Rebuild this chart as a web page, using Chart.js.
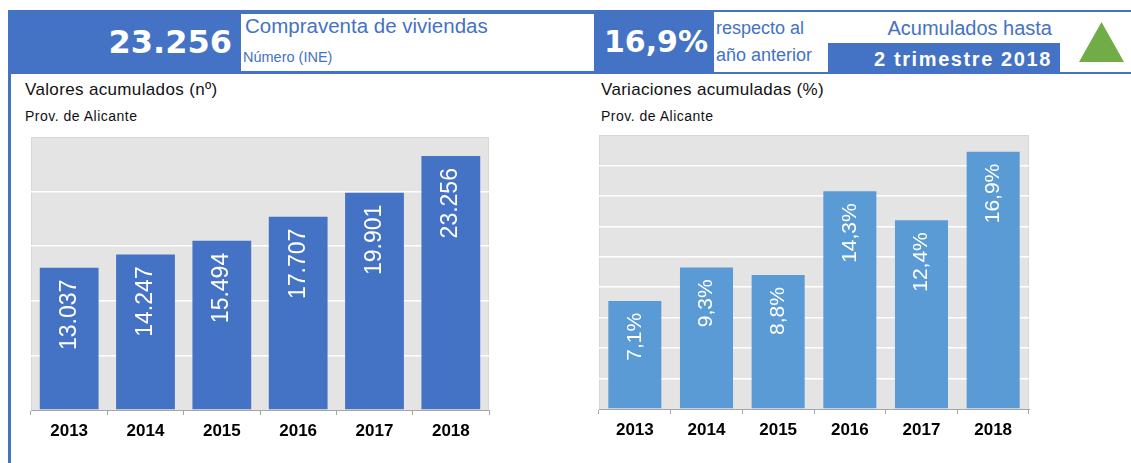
<!DOCTYPE html>
<html>
<head>
<meta charset="utf-8">
<script src="https://cdn.jsdelivr.net/npm/chart.js@4.4.1/dist/chart.umd.min.js"></script>
<style>
  html, body { margin:0; padding:0; background:#fff; }
  body { width:1131px; height:463px; position:relative; overflow:hidden; font-family:"Liberation Sans", Arial, sans-serif; }
  .abs { position:absolute; white-space:nowrap; }
  .blue { background:#4472c4; }
  .t { color:#4472c4; }
</style>
</head>
<body>
<script>
// ---- data ----
const categories = ['2013', '2014', '2015', '2016', '2017', '2018'];
const compraventas = [13037, 14247, 15494, 17707, 19901, 23256];
const variaciones = [7.1, 9.3, 8.8, 14.3, 12.4, 16.9];
const headerPeriod = '2 trimestre 2018';
const leftTitle = 'Valores acumulados (nº)';
const rightTitle = 'Variaciones acumuladas (%)';
const subTitle = 'Prov. de Alicante';
</script>

<!-- header -->
<div class="abs blue" style="left:8px;top:10px;width:590px;height:64px;"></div>
<div class="abs" style="left:241px;top:14px;width:353px;height:57px;background:#fff;"></div>
<div class="abs blue" style="left:598px;top:10px;width:533px;height:2px;"></div>
<div class="abs blue" style="left:598px;top:72px;width:533px;height:2px;"></div>
<div class="abs blue" style="left:598px;top:10px;width:116px;height:64px;"></div>
<div class="abs blue" style="left:828px;top:43px;width:232px;height:31px;"></div>
<div class="abs" style="left:1079px;top:22px;width:45px;height:40px;background:#70ad47;clip-path:polygon(50% 0,100% 100%,0 100%);"></div>
<div class="abs blue" style="left:8px;top:74px;width:3px;height:389px;"></div>

<div id="bigNum" class="abs" style="right:899px;top:22px;height:40px;line-height:40px;font-family:'DejaVu Sans';font-weight:bold;font-size:32px;color:#fff;"></div>
<div class="abs t" style="left:245px;top:13px;height:26px;line-height:26px;font-size:20.5px;">Compraventa de viviendas</div>
<div class="abs t" style="left:243px;top:48px;height:18px;line-height:18px;font-size:14.5px;">Número (INE)</div>
<div id="bigPct" class="abs" style="left:598px;width:116px;text-align:center;top:22px;height:40px;line-height:40px;font-family:'DejaVu Sans';font-weight:bold;font-size:30px;color:#fff;"></div>
<div class="abs t" style="left:716px;top:17px;height:22px;line-height:22px;font-size:18px;">respecto al</div>
<div class="abs t" style="left:716px;top:44px;height:22px;line-height:22px;font-size:18px;">año anterior</div>
<div class="abs t" style="right:79px;top:16px;height:24px;line-height:24px;font-size:20px;">Acumulados hasta</div>
<div id="period" class="abs" style="right:79px;top:45px;height:28px;line-height:28px;font-size:20px;font-weight:bold;color:#fff;letter-spacing:1.6px;"></div>

<!-- titles -->
<div id="lt" class="abs" style="left:25px;top:79px;height:22px;line-height:22px;font-size:17px;letter-spacing:0.35px;color:#111;"></div>
<div id="ls" class="abs" style="left:25px;top:107px;height:18px;line-height:18px;font-size:14px;letter-spacing:0.5px;color:#111;"></div>
<div id="rt" class="abs" style="left:601px;top:79px;height:22px;line-height:22px;font-size:17px;letter-spacing:0.3px;color:#111;"></div>
<div id="rs" class="abs" style="left:601px;top:107px;height:18px;line-height:18px;font-size:14px;letter-spacing:0.5px;color:#111;"></div>

<canvas id="c1" class="abs" width="478" height="330" style="left:21px;top:127px;width:478px;height:330px;"></canvas>
<canvas id="c2" class="abs" width="450" height="331" style="left:589px;top:125px;width:450px;height:331px;"></canvas>

<script>
function fmtThousands(v) {
  return String(Math.round(v)).replace(/\B(?=(\d{3})+(?!\d))/g, '.');
}
function fmtPct(v) {
  return v.toFixed(1).replace('.', ',') + '%';
}
document.getElementById('bigNum').textContent = fmtThousands(compraventas[compraventas.length - 1]);
document.getElementById('bigPct').textContent = fmtPct(variaciones[variaciones.length - 1]);
document.getElementById('period').textContent = headerPeriod;
document.getElementById('lt').textContent = leftTitle;
document.getElementById('rt').textContent = rightTitle;
document.getElementById('ls').textContent = subTitle;
document.getElementById('rs').textContent = subTitle;

function plotBgPlugin() {
  return {
    id: 'plotBg',
    beforeDraw(chart) {
      const { ctx, chartArea: a } = chart;
      ctx.save();
      ctx.fillStyle = '#e4e4e4';
      ctx.fillRect(a.left, a.top, a.right - a.left, a.bottom - a.top);
      ctx.strokeStyle = '#d6d6d6';
      ctx.lineWidth = 1;
      ctx.strokeRect(a.left + 0.5, a.top + 0.5, a.right - a.left - 1, a.bottom - a.top);
      ctx.restore();
    }
  };
}
function barLabelPlugin(format, font, offset) {
  return {
    id: 'barLabels',
    afterDatasetsDraw(chart) {
      const ctx = chart.ctx;
      const meta = chart.getDatasetMeta(0);
      const vals = chart.data.datasets[0].data;
      ctx.save();
      ctx.fillStyle = '#ffffff';
      ctx.font = font;
      ctx.textAlign = 'right';
      ctx.textBaseline = 'middle';
      meta.data.forEach((bar, i) => {
        ctx.save();
        ctx.translate(bar.x, bar.y + offset);
        ctx.rotate(-Math.PI / 2);
        ctx.fillText(format(vals[i]), 0, 0);
        ctx.restore();
      });
      ctx.restore();
    }
  };
}

function makeChart(id, data, color, barPct, max, step, format, labelFont) {
  return new Chart(document.getElementById(id), {
    type: 'bar',
    data: {
      labels: categories,
      datasets: [{
        data: data,
        backgroundColor: color,
        borderWidth: 0,
        categoryPercentage: 1,
        barPercentage: barPct
      }]
    },
    options: {
      responsive: false,
      animation: false,
      devicePixelRatio: 1,
      layout: { padding: { left: 10, right: 10, top: 10, bottom: 10 } },
      plugins: { legend: { display: false }, tooltip: { enabled: false }, title: { display: false } },
      scales: {
        x: {
          grid: { display: true, drawOnChartArea: false, drawTicks: true, tickLength: 5, color: '#a6a6a6', offset: true },
          border: { display: true, color: '#a6a6a6', width: 1 },
          ticks: { color: '#000', padding: 6, font: { family: 'Liberation Sans', weight: 'bold', size: 17 } },
          afterFit(s) { s.height = 37; }
        },
        y: {
          min: 0, max: max,
          ticks: { display: false, stepSize: step },
          border: { display: false },
          grid: {
            drawTicks: false,
            lineWidth: 1.5,
            color: c => (c.tick && (c.tick.value === 0 || c.tick.value === max)) ? 'rgba(0,0,0,0)' : '#ffffff'
          },
          afterFit(s) { s.width = 0; }
        }
      }
    },
    plugins: [plotBgPlugin(), barLabelPlugin(format, labelFont, 12)]
  });
}

makeChart('c1', compraventas, '#4472c4', 0.77, 25000, 5000, fmtThousands, '23px "Liberation Sans", Arial, sans-serif');
makeChart('c2', variaciones, '#5b9bd5', 0.74, 18, 2, fmtPct, '21px "Liberation Sans", Arial, sans-serif');
</script>
</body>
</html>
